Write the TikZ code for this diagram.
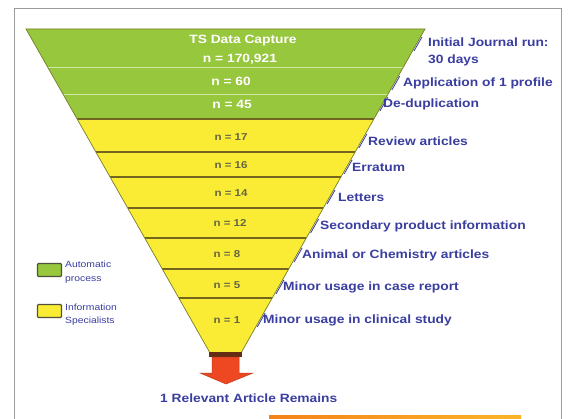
\documentclass[tikz,border=0pt]{standalone}
\usepackage{fontspec}
\setmainfont{Liberation Sans}[FakeStretch=1.15]
\definecolor{fgreen}{RGB}{150,199,60}
\definecolor{fyellow}{RGB}{250,236,52}
\definecolor{gline}{RGB}{205,232,165}
\definecolor{yline}{RGB}{115,100,30}
\definecolor{outl}{RGB}{120,125,40}
\definecolor{lblblue}{RGB}{58,62,160}
\definecolor{ytext}{RGB}{100,100,70}
\definecolor{framegray}{RGB}{155,155,155}
\definecolor{arrred}{RGB}{238,72,35}
\definecolor{arrdark}{RGB}{100,45,20}
\definecolor{orangeL}{RGB}{245,130,25}
\definecolor{orangeR}{RGB}{250,180,40}
\definecolor{legedge}{RGB}{80,80,60}
\def\XL#1{26+0.568*(#1-29)}
\def\XR#1{425-0.568*(#1-29)}
\begin{document}
\begin{tikzpicture}[x=1pt,y=-1pt,
  lbl/.style={anchor=west,inner sep=0pt,text=lblblue,font=\fontsize{12}{17}\selectfont\bfseries,align=left},
  gtxt/.style={inner sep=0pt,text=white,font=\fontsize{12}{14}\selectfont\bfseries},
  ytxt/.style={inner sep=0pt,text=ytext,font=\fontsize{10}{12}\selectfont\bfseries},
  legtxt/.style={anchor=west,inner sep=0pt,text=lblblue,font=\fontsize{9}{13.5}\selectfont,align=left},
  legbox/.style={draw=legedge,line width=1.4pt,rounded corners=1pt,minimum width=24pt,minimum height=13pt,inner sep=0pt},
  leader/.style={draw=lblblue,line width=0.8pt},
  gsep/.style={draw=gline,line width=0.9pt},
  ysep/.style={draw=yline,line width=1.5pt},
]
\useasboundingbox (0,0) rectangle (569,419);
\fill[white] (0,0) rectangle (569,419);
\draw[framegray,line width=1pt] (14,430) -- (14,9) -- (561,9) -- (561,430);
% funnel
\fill[fgreen] ({\XL{29}},29) -- ({\XR{29}},29) -- ({\XR{119}},119) -- ({\XL{119}},119) -- cycle;
\fill[fyellow] ({\XL{119}},119) -- ({\XR{119}},119) -- ({\XR{352}},352) -- ({\XL{352}},352) -- cycle;
\foreach \y in {67,94} \draw[gsep] ({\XL{\y}},\y) -- ({\XR{\y}},\y);
\foreach \y in {119,152,177,208,238,269,298} \draw[ysep] ({\XL{\y}},\y) -- ({\XR{\y}},\y);
\draw[outl,line width=0.7pt] ({\XL{352}},352) -- ({\XL{29}},29) -- ({\XR{29}},29) -- ({\XR{352}},352);
% texts in funnel
\node[gtxt] (t0) at (243,41) {TS Data Capture};
\node[gtxt] (t1) at (240,59) {n = 170,921};
\node[gtxt] (t2) at (231,81) {n = 60};
\node[gtxt] (t3) at (232,104) {n = 45};
\node[ytxt] (t4) at (231,137) {n = 17};
\node[ytxt] (t5) at (231,165) {n = 16};
\node[ytxt] (t6) at (231,193) {n = 14};
\node[ytxt] (t7) at (230,223) {n = 12};
\node[ytxt] (t8) at (227,254) {n = 8};
\node[ytxt] (t9) at (227,285) {n = 5};
\node[ytxt] (t10) at (227,320) {n = 1};
% labels
\node[lbl] (l0) at (428,51.5) {Initial Journal run:\\30 days};
\node[lbl] (l1) at (403,83) {Application of 1 profile};
\node[lbl] (l2) at (383,104) {De-duplication};
\node[lbl] (l3) at (368,141) {Review articles};
\node[lbl] (l4) at (352,167) {Erratum};
\node[lbl] (l5) at (338,197) {Letters};
\node[lbl] (l6) at (320,226) {Secondary product information};
\node[lbl] (l7) at (302,255) {Animal or Chemistry articles};
\node[lbl] (l8) at (283,287) {Minor usage in case report};
\node[lbl] (l9) at (263,320) {Minor usage in clinical study};
\foreach \y in {44,83,104,141,167,197,226,255,287,320}
  \draw[leader] ({\XR{\y+7}+1.5},\y+7) -- ({\XR{\y-7}+1.5},\y-7);
% arrow
\fill[arrdark] ({\XL{352}},352) rectangle ({\XR{352}},357);
\draw[arrred!80!black,fill=arrred,line width=0.5pt] (212,357) -- (239,357) -- (239,373) -- (253,373) -- (226,384) -- (200,373) -- (212,373) -- cycle;
\node[lbl] (res) at (160,398) {1 Relevant Article Remains};
% legend
\node[legbox,fill=fgreen] (lg) at (49.5,270) {};
\node[legtxt] (lgt) at (65,272) {Automatic\\process};
\node[legbox,fill=fyellow] (ly) at (49.5,311) {};
\node[legtxt] (lyt) at (65,314.5) {Information\\Specialists};
% orange bar
\shade[left color=orangeL,right color=orangeR] (269,415) rectangle (521,421);
\end{tikzpicture}
\end{document}
